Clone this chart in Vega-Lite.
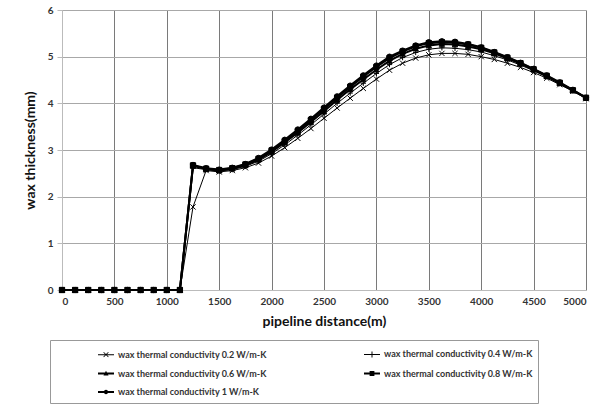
{
  "$schema": "https://vega.github.io/schema/vega-lite/v6.json",
  "autosize": "none",
  "width": 524,
  "height": 280,
  "padding": {"left": 62, "top": 10, "right": 23, "bottom": 115},
  "background": "white",
  "config": {
    "font": "Lato",
    "view": {"stroke": null},
    "axis": {
      "labelFont": "Lato", "labelFontWeight": "bold", "labelFontSize": 10, "labelColor": "#333",
      "titleFont": "Lato", "titleFontWeight": "bold", "titleFontSize": 14, "titleColor": "#111",
      "gridColor": "#8a8a8a", "gridOpacity": 1, "gridWidth": 1,
      "domainColor": "#bbbbbb", "tickColor": "#bbbbbb"
    }
  },
  "data": {"values": [
    {"k":0.2,"x":0,"y":0},{"k":0.2,"x":125,"y":0},{"k":0.2,"x":250,"y":0},{"k":0.2,"x":375,"y":0},{"k":0.2,"x":500,"y":0},{"k":0.2,"x":625,"y":0},{"k":0.2,"x":750,"y":0},{"k":0.2,"x":875,"y":0},{"k":0.2,"x":1000,"y":0},{"k":0.2,"x":1125,"y":0},
    {"k":0.2,"x":1250,"y":1.78},{"k":0.2,"x":1375,"y":2.56},{"k":0.2,"x":1500,"y":2.53},{"k":0.2,"x":1625,"y":2.56},{"k":0.2,"x":1750,"y":2.62},{"k":0.2,"x":1875,"y":2.72},{"k":0.2,"x":2000,"y":2.87},{"k":0.2,"x":2125,"y":3.05},{"k":0.2,"x":2250,"y":3.25},{"k":0.2,"x":2375,"y":3.46},{"k":0.2,"x":2500,"y":3.68},{"k":0.2,"x":2625,"y":3.90},{"k":0.2,"x":2750,"y":4.11},{"k":0.2,"x":2875,"y":4.32},{"k":0.2,"x":3000,"y":4.52},{"k":0.2,"x":3125,"y":4.71},{"k":0.2,"x":3250,"y":4.86},{"k":0.2,"x":3375,"y":4.97},{"k":0.2,"x":3500,"y":5.04},{"k":0.2,"x":3625,"y":5.07},{"k":0.2,"x":3750,"y":5.07},{"k":0.2,"x":3875,"y":5.05},{"k":0.2,"x":4000,"y":5.00},{"k":0.2,"x":4125,"y":4.94},{"k":0.2,"x":4250,"y":4.86},{"k":0.2,"x":4375,"y":4.77},{"k":0.2,"x":4500,"y":4.66},{"k":0.2,"x":4625,"y":4.54},{"k":0.2,"x":4750,"y":4.40},{"k":0.2,"x":4875,"y":4.26},{"k":0.2,"x":5000,"y":4.10},
    {"k":0.4,"x":0,"y":0},{"k":0.4,"x":125,"y":0},{"k":0.4,"x":250,"y":0},{"k":0.4,"x":375,"y":0},{"k":0.4,"x":500,"y":0},{"k":0.4,"x":625,"y":0},{"k":0.4,"x":750,"y":0},{"k":0.4,"x":875,"y":0},{"k":0.4,"x":1000,"y":0},{"k":0.4,"x":1125,"y":0},
    {"k":0.4,"x":1250,"y":2.62},{"k":0.4,"x":1375,"y":2.58},{"k":0.4,"x":1500,"y":2.55},{"k":0.4,"x":1625,"y":2.58},{"k":0.4,"x":1750,"y":2.65},{"k":0.4,"x":1875,"y":2.76},{"k":0.4,"x":2000,"y":2.92},{"k":0.4,"x":2125,"y":3.11},{"k":0.4,"x":2250,"y":3.32},{"k":0.4,"x":2375,"y":3.54},{"k":0.4,"x":2500,"y":3.77},{"k":0.4,"x":2625,"y":4.00},{"k":0.4,"x":2750,"y":4.22},{"k":0.4,"x":2875,"y":4.43},{"k":0.4,"x":3000,"y":4.64},{"k":0.4,"x":3125,"y":4.83},{"k":0.4,"x":3250,"y":4.98},{"k":0.4,"x":3375,"y":5.09},{"k":0.4,"x":3500,"y":5.16},{"k":0.4,"x":3625,"y":5.19},{"k":0.4,"x":3750,"y":5.18},{"k":0.4,"x":3875,"y":5.15},{"k":0.4,"x":4000,"y":5.10},{"k":0.4,"x":4125,"y":5.02},{"k":0.4,"x":4250,"y":4.93},{"k":0.4,"x":4375,"y":4.82},{"k":0.4,"x":4500,"y":4.70},{"k":0.4,"x":4625,"y":4.57},{"k":0.4,"x":4750,"y":4.42},{"k":0.4,"x":4875,"y":4.27},{"k":0.4,"x":5000,"y":4.11},
    {"k":0.6,"x":0,"y":0},{"k":0.6,"x":125,"y":0},{"k":0.6,"x":250,"y":0},{"k":0.6,"x":375,"y":0},{"k":0.6,"x":500,"y":0},{"k":0.6,"x":625,"y":0},{"k":0.6,"x":750,"y":0},{"k":0.6,"x":875,"y":0},{"k":0.6,"x":1000,"y":0},{"k":0.6,"x":1125,"y":0},
    {"k":0.6,"x":1250,"y":2.66},{"k":0.6,"x":1375,"y":2.59},{"k":0.6,"x":1500,"y":2.56},{"k":0.6,"x":1625,"y":2.60},{"k":0.6,"x":1750,"y":2.67},{"k":0.6,"x":1875,"y":2.79},{"k":0.6,"x":2000,"y":2.96},{"k":0.6,"x":2125,"y":3.16},{"k":0.6,"x":2250,"y":3.37},{"k":0.6,"x":2375,"y":3.60},{"k":0.6,"x":2500,"y":3.83},{"k":0.6,"x":2625,"y":4.07},{"k":0.6,"x":2750,"y":4.30},{"k":0.6,"x":2875,"y":4.51},{"k":0.6,"x":3000,"y":4.72},{"k":0.6,"x":3125,"y":4.91},{"k":0.6,"x":3250,"y":5.06},{"k":0.6,"x":3375,"y":5.17},{"k":0.6,"x":3500,"y":5.24},{"k":0.6,"x":3625,"y":5.27},{"k":0.6,"x":3750,"y":5.26},{"k":0.6,"x":3875,"y":5.22},{"k":0.6,"x":4000,"y":5.16},{"k":0.6,"x":4125,"y":5.07},{"k":0.6,"x":4250,"y":4.96},{"k":0.6,"x":4375,"y":4.85},{"k":0.6,"x":4500,"y":4.72},{"k":0.6,"x":4625,"y":4.58},{"k":0.6,"x":4750,"y":4.43},{"k":0.6,"x":4875,"y":4.28},{"k":0.6,"x":5000,"y":4.12},
    {"k":0.8,"x":0,"y":0},{"k":0.8,"x":125,"y":0},{"k":0.8,"x":250,"y":0},{"k":0.8,"x":375,"y":0},{"k":0.8,"x":500,"y":0},{"k":0.8,"x":625,"y":0},{"k":0.8,"x":750,"y":0},{"k":0.8,"x":875,"y":0},{"k":0.8,"x":1000,"y":0},{"k":0.8,"x":1125,"y":0},
    {"k":0.8,"x":1250,"y":2.67},{"k":0.8,"x":1375,"y":2.60},{"k":0.8,"x":1500,"y":2.57},{"k":0.8,"x":1625,"y":2.61},{"k":0.8,"x":1750,"y":2.69},{"k":0.8,"x":1875,"y":2.81},{"k":0.8,"x":2000,"y":2.99},{"k":0.8,"x":2125,"y":3.19},{"k":0.8,"x":2250,"y":3.41},{"k":0.8,"x":2375,"y":3.64},{"k":0.8,"x":2500,"y":3.88},{"k":0.8,"x":2625,"y":4.12},{"k":0.8,"x":2750,"y":4.35},{"k":0.8,"x":2875,"y":4.57},{"k":0.8,"x":3000,"y":4.78},{"k":0.8,"x":3125,"y":4.97},{"k":0.8,"x":3250,"y":5.11},{"k":0.8,"x":3375,"y":5.22},{"k":0.8,"x":3500,"y":5.29},{"k":0.8,"x":3625,"y":5.31},{"k":0.8,"x":3750,"y":5.30},{"k":0.8,"x":3875,"y":5.26},{"k":0.8,"x":4000,"y":5.19},{"k":0.8,"x":4125,"y":5.09},{"k":0.8,"x":4250,"y":4.98},{"k":0.8,"x":4375,"y":4.86},{"k":0.8,"x":4500,"y":4.73},{"k":0.8,"x":4625,"y":4.59},{"k":0.8,"x":4750,"y":4.44},{"k":0.8,"x":4875,"y":4.28},{"k":0.8,"x":5000,"y":4.12},
    {"k":1,"x":0,"y":0},{"k":1,"x":125,"y":0},{"k":1,"x":250,"y":0},{"k":1,"x":375,"y":0},{"k":1,"x":500,"y":0},{"k":1,"x":625,"y":0},{"k":1,"x":750,"y":0},{"k":1,"x":875,"y":0},{"k":1,"x":1000,"y":0},{"k":1,"x":1125,"y":0},
    {"k":1,"x":1250,"y":2.68},{"k":1,"x":1375,"y":2.61},{"k":1,"x":1500,"y":2.58},{"k":1,"x":1625,"y":2.62},{"k":1,"x":1750,"y":2.70},{"k":1,"x":1875,"y":2.83},{"k":1,"x":2000,"y":3.01},{"k":1,"x":2125,"y":3.22},{"k":1,"x":2250,"y":3.44},{"k":1,"x":2375,"y":3.67},{"k":1,"x":2500,"y":3.91},{"k":1,"x":2625,"y":4.15},{"k":1,"x":2750,"y":4.38},{"k":1,"x":2875,"y":4.60},{"k":1,"x":3000,"y":4.81},{"k":1,"x":3125,"y":5.00},{"k":1,"x":3250,"y":5.13},{"k":1,"x":3375,"y":5.24},{"k":1,"x":3500,"y":5.31},{"k":1,"x":3625,"y":5.33},{"k":1,"x":3750,"y":5.32},{"k":1,"x":3875,"y":5.27},{"k":1,"x":4000,"y":5.20},{"k":1,"x":4125,"y":5.10},{"k":1,"x":4250,"y":4.99},{"k":1,"x":4375,"y":4.87},{"k":1,"x":4500,"y":4.74},{"k":1,"x":4625,"y":4.60},{"k":1,"x":4750,"y":4.45},{"k":1,"x":4875,"y":4.29},{"k":1,"x":5000,"y":4.12}
  ]},
  "encoding": {
    "x": {"field": "x", "type": "quantitative", "scale": {"domain": [0, 5000], "nice": false},
      "axis": {"values": [0,500,1000,1500,2000,2500,3000,3500,4000,4500,5000], "format": "d", "title": "pipeline distance(m)", "ticks": false, "labelPadding": 6, "titlePadding": 8, "gridColor": "#7a7a7a"}},
    "y": {"field": "y", "type": "quantitative", "scale": {"domain": [0, 6], "nice": false},
      "axis": {"values": [0,1,2,3,4,5,6], "title": "wax thickness(mm)", "tickSize": 5, "labelPadding": 4, "titlePadding": 10, "gridColor": "#a8a8a8"}}
  },
  "layer": [
    {
      "mark": {"type": "line", "color": "black"},
      "encoding": {
        "detail": {"field": "k", "type": "nominal"},
        "strokeWidth": {"condition": {"test": "datum.k < 0.5", "value": 1}, "value": 2}
      }
    },
    {
      "mark": {"type": "point", "filled": true, "color": "black", "stroke": "black", "strokeWidth": 1, "size": 28, "opacity": 1},
      "encoding": {
        "shape": {"field": "k", "type": "nominal",
          "scale": {"domain": [0.2, 0.4, 0.6, 0.8, 1], "range": ["M-1,-1L1,1M-1,1L1,-1", "M-1,0L1,0M0,-1L0,1", "triangle-up", "square", "circle"]},
          "legend": null
        }
      }
    },
    {
      "transform": [{"filter": "datum.x < 0"}],
      "mark": {"type": "point", "filled": true, "color": "black", "size": 256, "opacity": 1},
      "encoding": {
        "shape": {"field": "k", "type": "nominal",
          "scale": {"domain": [0.2, 0.4, 0.6, 0.8, 1], "range": [
            "M-1,-0.06H1V0.06H-1ZM-0.335,-0.265L-0.265,-0.335L0.335,0.265L0.265,0.335ZM-0.335,0.265L0.265,-0.335L0.335,-0.265L-0.265,0.335Z",
            "M-1,-0.06H1V0.06H-1ZM-0.06,-0.38H0.06V0.38H-0.06Z",
            "M-1,-0.12H1V0.12H-1ZM0,-0.34L0.32,0.24L-0.32,0.24Z",
            "M-1,-0.12H1V0.12H-1ZM-0.3,-0.3L0.3,-0.3L0.3,0.3L-0.3,0.3Z",
            "M-1,-0.12H-0.26V0.12H-1ZM0.26,-0.12H1V0.12H0.26ZM-0.28,0A0.28,0.28 0 1,1 0.28,0A0.28,0.28 0 1,1 -0.28,0Z"
          ]},
          "legend": {
            "orient": "none", "legendX": -12, "legendY": 330, "columns": 2, "direction": "horizontal", "title": null,
            "strokeColor": "#999", "padding": 5, "symbolOffset": 42, "columnPadding": 54, "rowPadding": 3.5,
            "labelFont": "Lato", "labelFontSize": 9, "labelFontWeight": "bold", "labelColor": "#333", "labelLimit": 300, "labelOffset": 3,
            "symbolSize": 256, "symbolFillColor": "black", "symbolOpacity": 1,
            "labelExpr": "'wax thermal conductivity ' + datum.label + ' W/m-K'"
          }
        }
      }
    }
  ],
  "resolve": {"scale": {"shape": "independent"}, "legend": {"shape": "independent"}}
}
